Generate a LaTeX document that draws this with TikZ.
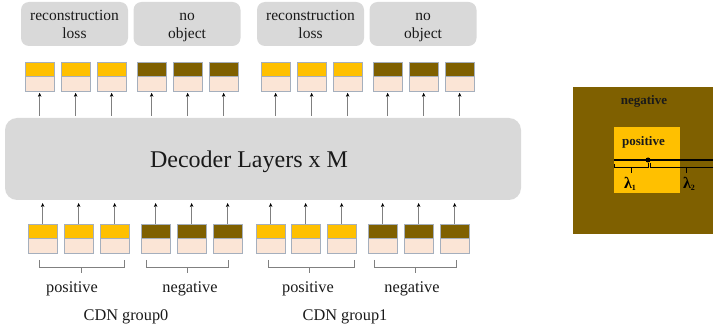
\documentclass[tikz,border=0pt]{standalone}
\usepackage{fontspec}
\setmainfont{Liberation Serif}
\usetikzlibrary{arrows.meta}
\definecolor{brownc}{HTML}{7F6000}
\definecolor{goldc}{HTML}{FFC000}
\definecolor{pinkc}{HTML}{FBE5D6}
\definecolor{grayc}{HTML}{D9D9D9}
\definecolor{edgec}{HTML}{A5AFBD}
\definecolor{linec}{HTML}{808080}
\definecolor{txtc}{HTML}{1A1A1A}
\begin{document}
\begin{tikzpicture}[x=1pt,y=-1pt,
  losbox/.style={fill=grayc, rounded corners=8pt, minimum width=107pt, minimum height=44pt, inner sep=0pt},
  lostxt/.style={font=\fontsize{15.5}{18.5}\selectfont, align=center, inner sep=0pt, text=txtc},
  tokhalf/.style={draw=edgec, line width=0.8pt, minimum width=28.5pt, minimum height=14.5pt, inner sep=0pt, anchor=north west},
  arr/.style={draw=linec, line width=0.7pt, -{Stealth[length=4pt,width=3.5pt,color=black]}},
  brk/.style={draw=linec, line width=0.7pt},
  lbl/.style={font=\fontsize{16.3}{19}\selectfont, inner sep=0pt, anchor=base, text=txtc},
  boldlbl/.style={font=\fontsize{13}{15}\bfseries\selectfont, inner sep=0pt, anchor=base, text=txtc},
  lamlbl/.style={font=\fontsize{16}{18}\bfseries\selectfont, inner sep=0pt, anchor=base, text=black},
]
\useasboundingbox (0,0) rectangle (713,326);

% loss boxes
\node[losbox] (rl1) at (74.5,24) {};
\node[losbox] (no1) at (187,24) {};
\node[losbox] (rl2) at (310.5,24) {};
\node[losbox] (no2) at (423,24) {};
\node[lostxt] (rl1t) at (74.5,26) {\strut reconstruction\\\strut loss};
\node[lostxt] (no1t) at (187,26) {\strut no\\\strut object};
\node[lostxt] (rl2t) at (310.5,26) {\strut reconstruction\\\strut loss};
\node[lostxt] (no2t) at (423,26) {\strut no\\\strut object};

% decoder
\node[fill=grayc, rounded corners=12pt, minimum width=516pt, minimum height=82pt, inner sep=0pt] (dec) at (263,159) {};
\node[font=\fontsize{24}{28}\selectfont, inner sep=0pt, anchor=base, text=txtc] (dect) at (249,168) {Decoder Layers x M};

% top tokens
\foreach \x/\c [count=\i] in {25/goldc,61/goldc,97/goldc,137/brownc,173/brownc,209/brownc,261/goldc,297/goldc,333/goldc,373/brownc,409/brownc,445/brownc}{
  \node[tokhalf, fill=\c] (ut\i) at (\x,62) {};
  \node[tokhalf, fill=pinkc] (ub\i) at (\x,76.5) {};
  \draw[arr] ([yshift=-24pt]ub\i.south) -- ([yshift=-1pt]ub\i.south);
}

% bottom tokens
\foreach \x/\c [count=\i] in {28/goldc,64/goldc,100/goldc,141/brownc,177/brownc,213/brownc,256/goldc,291/goldc,327/goldc,368/brownc,404/brownc,440/brownc}{
  \node[tokhalf, fill=\c] (lt\i) at (\x,224) {};
  \node[tokhalf, fill=pinkc] (lb\i) at (\x,238.5) {};
  \draw[arr] (lt\i.north) -- ([yshift=21pt]lt\i.north);
}

% brackets
\foreach \a/\b/\m in {39/124/81,146/228/187,268/354/309,374/456/415}{
  \draw[brk] (\a,260) -- (\a,267) -- (\b,267) -- (\b,260);
  \draw[brk] (\m,267) -- (\m,273);
}

% labels
\node[lbl] (pos0) at (72,292) {positive};
\node[lbl] (neg0) at (190,292) {negative};
\node[lbl] (pos1) at (308,292) {positive};
\node[lbl] (neg1) at (412,292) {negative};
\node[lbl] (cdn0) at (126,320) {CDN group0};
\node[lbl] (cdn1) at (345,320) {CDN group1};

% right panel
\fill[brownc] (573,87) rectangle (713,234);
\fill[goldc] (614,127) rectangle (680,193);
\node[boldlbl] (negr) at (644,105) {negative};
\node[boldlbl] (posr) at (643.5,146) {positive};
\draw[line width=2pt] (614,160) -- (713,160);
\fill (648,160) circle (2.5pt);
\draw[line width=0.8pt] (614,164) -- (614,167) -- (648,167) -- (648,163);
\draw[line width=0.8pt] (650,163) -- (650,167) -- (713,167);
\draw[line width=0.8pt] (631,167) -- (631,173);
\draw[line width=0.8pt] (686,167) -- (686,173);
\node[lamlbl] (lam1) at (630,189) {λ{\fontsize{8}{9}\selectfont\raisebox{-2pt}{1}}};
\node[lamlbl] (lam2) at (689,189) {λ{\fontsize{8}{9}\selectfont\raisebox{-2pt}{2}}};
\end{tikzpicture}
\end{document}
